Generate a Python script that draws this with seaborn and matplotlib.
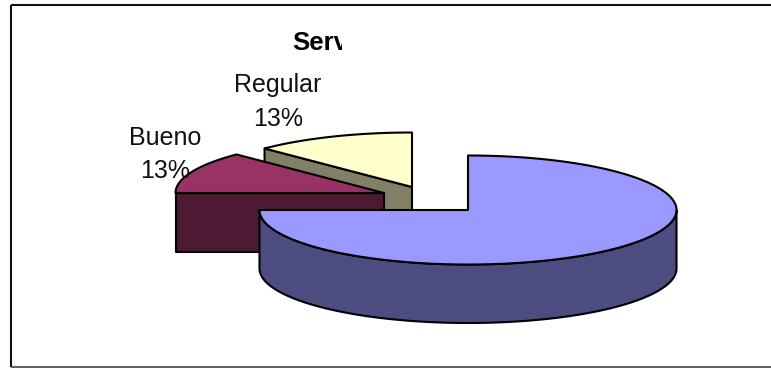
import numpy as np
import matplotlib
matplotlib.use("Agg")
import matplotlib.pyplot as plt
from matplotlib.patches import Rectangle
import seaborn as sns

# Survey shares, percent of answers, clockwise from the top of the pie
categories = ["Otro", "Bueno", "Regular"]
shares = [75.0, 12.5, 12.5]
share_labels = ["75%", "13%", "13%"]
top_colors = ["#9999ff", "#993366", "#ffffcc"]
side_colors = ["#4c4c80", "#4c1a33", "#808066"]

# Pie layout in pixel units of the canvas
WIDTH, HEIGHT = 771, 368
CENTER = (468.0, 210.0)
RX, RY = 208.5, 54.5
DEPTH = 58.5
START_ANGLE = 90.0
# Sideways and upward pull of each slice away from the pie centre
pull_x = [0.0, -84.0, -56.0]
pull_y = [0.0, -17.0, -23.0]
DRAW_ORDER = [2, 1, 0]
EDGE = "#000000"
LW = 1.5

sns.set_theme(style="white")
plt.rcParams["font.family"] = ["Liberation Sans", "DejaVu Sans"]

fig = plt.figure(figsize=(WIDTH / 100, HEIGHT / 100), dpi=100, facecolor="white")
ax = fig.add_axes([0, 0, 1, 1])
ax.set_xlim(0, WIDTH)
ax.set_ylim(HEIGHT, 0)
ax.axis("off")


def rim(cx, cy, a0, a1, n=160):
    t = np.radians(np.linspace(a0, a1, n))
    return cx + RX * np.cos(t), cy - RY * np.sin(t)


def extrude(x, y):
    return (np.r_[x, x[::-1]], np.r_[y, y[::-1] + DEPTH])


ends = START_ANGLE - np.cumsum(shares) * 3.6
starts = np.r_[START_ANGLE, ends[:-1]]

for i in DRAW_ORDER:
    cx, cy = CENTER[0] + pull_x[i], CENTER[1] + pull_y[i]
    a_start, a_end = starts[i], ends[i]
    common = dict(edgecolor=EDGE, linewidth=LW, joinstyle="round")

    # The cut wall on the leading side shows when it faces the viewer
    if 90 < a_start % 360 <= 180:
        ex, ey = rim(cx, cy, a_start, a_start, 2)
        px, py = extrude(np.array([cx, ex[0]]), np.array([cy, ey[0]]))
        ax.fill(px, py, facecolor=side_colors[i], **common)

    # Outer wall along the lower half of the rim
    lo, hi = max(a_end, -180.0), min(a_start, 0.0)
    if hi > lo:
        ox, oy = rim(cx, cy, lo, hi)
        px, py = extrude(ox, oy)
        ax.fill(px, py, facecolor=side_colors[i], **common)

    # Top face
    tx, ty = rim(cx, cy, a_end, a_start, 300)
    ax.fill(np.r_[cx, tx], np.r_[cy, ty], facecolor=top_colors[i], **common)

# Chart frame: left, top and bottom rules
ax.plot([11, 11], [5, 367], color="#111111", lw=1.5, solid_capstyle="butt")
ax.plot([11, WIDTH], [5, 5], color="#111111", lw=1.5, solid_capstyle="butt")
ax.plot([11, WIDTH], [367, 367], color="#444444", lw=1.2, solid_capstyle="butt")

# Data labels
label_style = dict(ha="center", va="center", fontsize=18, color="#111111")
ax.text(278, 85, categories[2], **label_style)
ax.text(278, 119, share_labels[2], **label_style)
ax.text(165, 138, categories[1], **label_style)
ax.text(165, 171, share_labels[1], **label_style)

# Title, cut off at the edge of its box
title = ax.text(292, 43, "Serv", ha="left", va="center", fontsize=18.5,
                fontweight="bold", color="black", clip_on=True)
title.set_clip_path(Rectangle((280, 25), 62, 35, transform=ax.transData))

fig.savefig("out.png", dpi=100, facecolor="white")
